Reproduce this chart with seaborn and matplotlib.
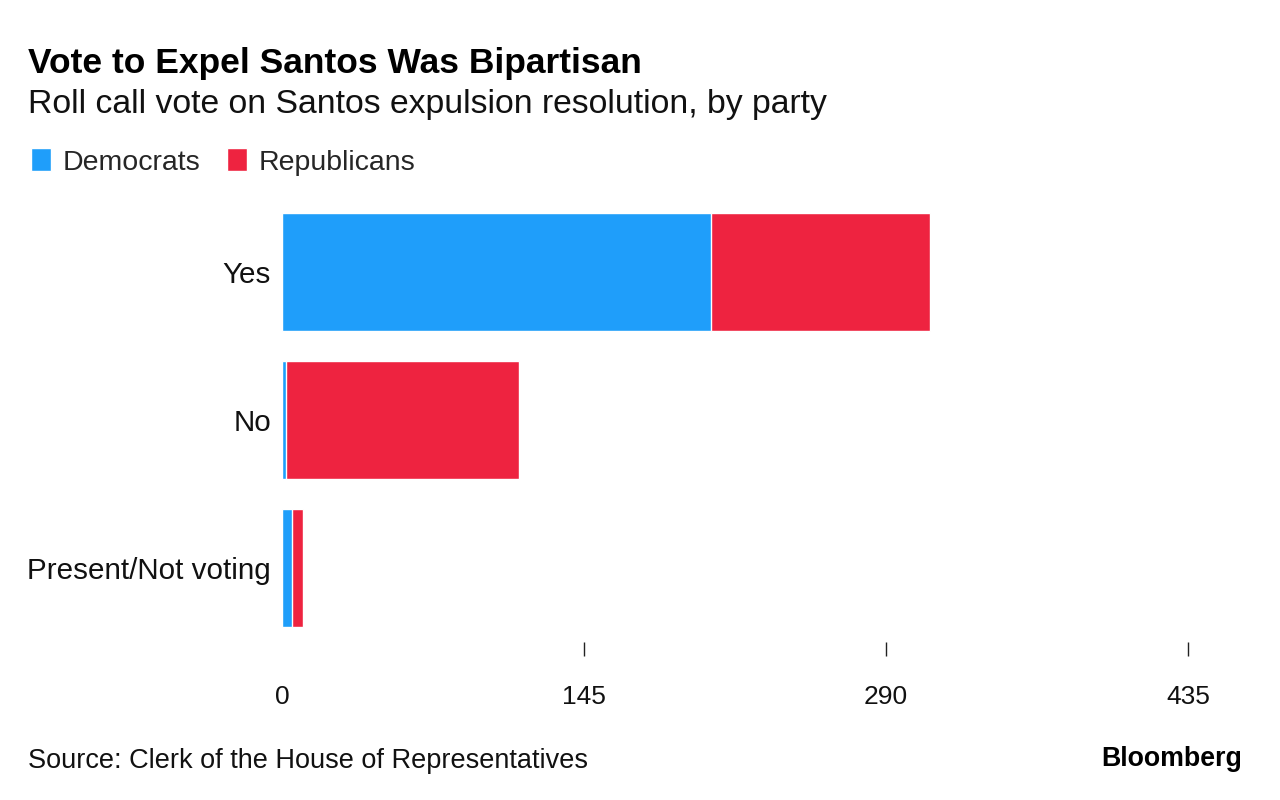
import matplotlib
matplotlib.use("Agg")
import matplotlib.pyplot as plt
import seaborn as sns
import pandas as pd
from matplotlib.patches import Patch

categories = ["Yes", "No", "Present/Not voting"]
democrats = [206, 2, 5]
republicans = [105, 112, 5]
tick_values = [0, 145, 290, 435]

BLUE = "#1F9EFA"
RED = "#EE2340"

sns.set_theme(style="white")
plt.rcParams["font.family"] = ["Liberation Sans", "DejaVu Sans"]

df = pd.DataFrame({"category": categories, "Democrats": democrats, "Republicans": republicans})
df["total"] = df["Democrats"] + df["Republicans"]

fig = plt.figure(figsize=(12.8, 8), dpi=100)
ax = fig.add_axes([282/1280, 1-642/800, (1188-282)/1280, (642-198)/800])

sns.barplot(data=df, x="total", y="category", color=RED, width=0.8, ax=ax, saturation=1, orient="h")
sns.barplot(data=df, x="Democrats", y="category", color=BLUE, width=0.8, ax=ax, saturation=1, orient="h")

ax.set_xlim(0, 435)
ax.set_ylim(2.5, -0.5)
ax.set_xlabel("")
ax.set_ylabel("")
for s in ax.spines.values():
    s.set_visible(False)
ax.set_xticks(tick_values)
ax.set_xticklabels([str(v) for v in tick_values], fontsize=19, color="#111111")
ax.tick_params(axis="x", length=10, width=1, color="#222222", pad=21, bottom=True)
ax.xaxis.get_major_ticks()[0].tick1line.set_visible(False)
ax.tick_params(axis="y", length=0, pad=8, labelsize=21.3, labelcolor="#111111")

fig.text(28/1280, 1-73/800, "Vote to Expel Santos Was Bipartisan", fontsize=25.5, fontweight="bold",
         color="#000000", ha="left", va="baseline")
fig.text(28/1280, 1-113/800, "Roll call vote on Santos expulsion resolution, by party", fontsize=24.3,
         color="#111111", ha="left", va="baseline")

handles = [Patch(facecolor=BLUE, label="Democrats"), Patch(facecolor=RED, label="Republicans")]
fig.legend(handles=handles, loc="center left", bbox_to_anchor=(31/1280, 1-162/800), ncol=2,
           frameon=False, fontsize=20.5, handlelength=0.7, handleheight=0.85, handletextpad=0.4,
           columnspacing=0.95, borderaxespad=0, borderpad=0)

fig.text(28/1280, 1-768/800, "Source: Clerk of the House of Representatives", fontsize=19.5,
         color="#111111", ha="left", va="baseline")
fig.text(1242/1280, 1-766/800, "Bloomberg", fontsize=19.3, fontweight="bold",
         color="#000000", ha="right", va="baseline")

fig.savefig("out.png", dpi=100)
